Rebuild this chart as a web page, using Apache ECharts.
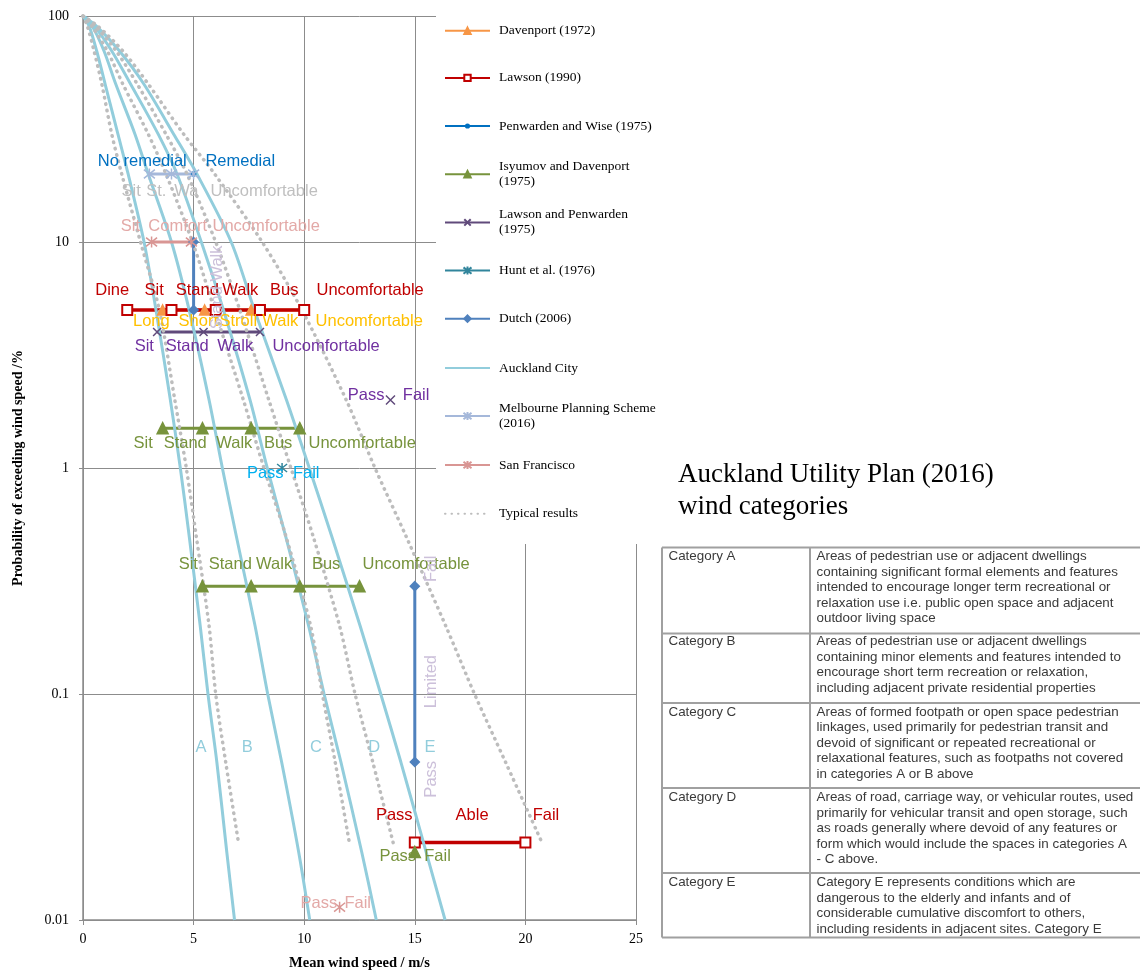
<!DOCTYPE html>
<html><head><meta charset="utf-8">
<script src="https://cdn.jsdelivr.net/npm/echarts@6/dist/echarts.min.js"></script>
<style>html,body{margin:0;padding:0;background:#fff}#c{width:1140px;height:976px}</style>
</head><body><div id="c"></div>
<script>
// ---------- data ----------
const xTicks = [0, 5, 10, 15, 20, 25];
const yTicks = [0.01, 0.1, 1, 10, 100];

const pAuckland = [100, 90, 70, 50, 30, 20, 10, 5, 2, 1, 0.5, 0.2, 0.1, 0.05, 0.02, 0.01];
const aucklandA = [0, 0.28, 0.62, 1.0, 1.58, 2.04, 2.76, 3.3, 3.95, 4.4, 4.8, 5.3, 5.65, 6.05, 6.5, 6.85];
const aucklandB = [0, 0.42, 0.95, 1.48, 2.35, 2.95, 4.0, 4.8, 5.7, 6.3, 6.93, 7.78, 8.35, 8.98, 9.75, 10.25];
const aucklandC = [0, 0.52, 1.3, 2.15, 3.4, 4.25, 5.35, 6.35, 7.55, 8.33, 9.16, 10.2, 10.9, 11.66, 12.6, 13.26];
const aucklandD = [0, 0.62, 1.65, 2.75, 4.1, 5.15, 6.7, 7.75, 9.2, 10.23, 11.24, 12.53, 13.46, 14.37, 15.51, 16.37];

const pTypical = [100, 90, 70, 50, 30, 20, 10, 5, 2, 1, 0.5, 0.2, 0.1, 0.05, 0.022];
const typical1 = [0, 0.2, 0.5, 0.85, 1.3, 1.75, 2.6, 3.45, 4.15, 4.67, 5.12, 5.7, 6.0, 6.45, 7.03];
const typical2 = [0, 0.4, 1.1, 1.8, 2.95, 3.75, 4.95, 5.95, 7.25, 8.18, 9.17, 10.29, 10.82, 11.4, 12.04];
const typical3 = [0, 0.56, 1.5, 2.45, 3.75, 4.7, 6.0, 7.09, 8.4, 9.4, 10.4, 11.6, 12.3, 13.1, 14.02];
const typical4 = [0, 0.68, 1.8, 2.95, 4.55, 5.95, 8.1, 9.9, 11.9, 13.2, 14.6, 16.4, 17.7, 19.1, 20.75];

const davenportX = [3.6, 5.5, 7.6, 10];        const davenportP = 5;
const lawsonX = [2, 4, 6, 8, 10];               const lawsonP = 5;
const lawsonX2 = [15, 20];                      const lawsonP2 = 0.022;
const penwardenX = [5];                         const penwardenP = 20;
const isyumovX1 = [3.6, 5.4, 7.6, 9.8];         const isyumovP1 = 1.5;
const isyumovX2 = [5.4, 7.6, 9.8, 12.5];        const isyumovP2 = 0.3;
const isyumovX3 = [15];                         const isyumovP3 = 0.02;
const lpX = [3.35, 5.45, 8.0];                  const lpP = 4;
const lpX2 = [13.9];                            const lpP2 = 2;
const huntX = [9];                              const huntP = 1;
const dutchP1 = [10, 5];                        const dutchX1 = 5;
const dutchP2 = [0.3, 0.05];                    const dutchX2 = 15;
const melbourneX = [3, 4, 5];                   const melbourneP = 20;
const sfX = [3.1, 4.9];                         const sfP = 10;
const sfX2 = [11.6];                            const sfP2 = 0.0114;

// annotation labels: [text, wind speed, probability]
const lblPenwarden = [['No remedial', 2.68, 22.67], ['Remedial', 7.11, 22.67]];
const lblMelbourne = [['Sit', 2.18, 16.71], ['St.', 3.31, 16.71], ['Wa', 4.67, 16.71], ['Uncomfortable', 8.19, 16.71]];
const lblSF = [['Sit', 2.14, 11.74], ['Comfort', 4.28, 11.74], ['Uncomfortable', 8.28, 11.74], ['Pass', 10.66, 0.01189], ['Fail', 12.42, 0.01189]];
const lblLawson = [['Dine', 1.32, 6.076], ['Sit', 3.22, 6.076], ['Stand', 5.165, 6.076], ['Walk', 7.11, 6.076], ['Bus', 9.1, 6.076], ['Uncomfortable', 12.98, 6.076],
                   ['Pass', 14.07, 0.02909], ['Able', 17.59, 0.02909], ['Fail', 20.93, 0.02909]];
const lblDavenport = [['Long', 3.09, 4.457], ['Short', 5.21, 4.457], ['Stroll', 7.02, 4.457], ['Walk', 8.92, 4.457], ['Uncomfortable', 12.94, 4.457]];
const lblLP = [['Sit', 2.77, 3.456], ['Stand', 4.71, 3.456], ['Walk', 6.88, 3.456], ['Uncomfortable', 10.99, 3.456], ['Pass', 12.8, 2.1], ['Fail', 15.06, 2.1]];
const lblIsyumov = [['Sit', 2.72, 1.289], ['Stand', 4.62, 1.289], ['Walk', 6.84, 1.289], ['Bus', 8.82, 1.289], ['Uncomfortable', 12.62, 1.289],
                    ['Sit', 4.76, 0.375], ['Stand', 6.66, 0.375], ['Walk', 8.64, 0.375], ['Bus', 10.99, 0.375], ['Uncomfortable', 15.06, 0.375],
                    ['Pass', 14.23, 0.01917], ['Fail', 16.03, 0.01917]];
const lblHunt = [['Pass', 8.24, 0.9504], ['Fail', 10.09, 0.9504]];
const lblCategories = [['A', 5.33, 0.05805], ['B', 7.42, 0.05805], ['C', 10.53, 0.05805], ['D', 13.16, 0.05805], ['E', 15.69, 0.05805]];
const lblDutch = [['Stand Walk', 6.07, 6.3], ['Fail', 15.74, 0.358], ['Limited', 15.74, 0.1135], ['Pass', 15.74, 0.04194]];

const legendNames = ['Davenport (1972)', 'Lawson (1990)', 'Penwarden and Wise (1975)', 'Isyumov and Davenport (1975)',
  'Lawson and Penwarden (1975)', 'Hunt et al. (1976)', 'Dutch (2006)', 'Auckland City',
  'Melbourne Planning Scheme (2016)', 'San Francisco', 'Typical results'];

const tableTitle = 'Auckland Utility Plan (2016)\nwind categories';
const tableCategories = ['Category A', 'Category B', 'Category C', 'Category D', 'Category E'];
const tableTexts = [
  ['Areas of pedestrian use or adjacent dwellings', 'containing significant formal elements and features', 'intended to encourage longer term recreational or', 'relaxation use i.e. public open space and adjacent', 'outdoor living space'],
  ['Areas of pedestrian use or adjacent dwellings', 'containing minor elements and features intended to', 'encourage short term recreation or relaxation,', 'including adjacent private residential properties'],
  ['Areas of formed footpath or open space pedestrian', 'linkages, used primarily for pedestrian transit and', 'devoid of significant or repeated recreational or', 'relaxational features, such as footpaths not covered', 'in categories A or B above'],
  ['Areas of road, carriage way, or vehicular routes, used', 'primarily for vehicular transit and open storage, such', 'as roads generally where devoid of any features or', 'form which would include the spaces in categories A', '- C above.'],
  ['Category E represents conditions which are', 'dangerous to the elderly and infants and of', 'considerable cumulative discomfort to others,', 'including residents in adjacent sites. Category E']
];

// ---------- helpers ----------
const zipX = (xs, ps) => xs.map((x, i) => [x, ps[i]]);
const atP = (xs, p) => xs.map(x => [x, p]);
const atX = (x, ps) => ps.map(p => [x, p]);

const ASTER = 'path://M1,1L9,9M9,1L1,9M5,0L5,10';
const CROSS = 'path://M0,0L10,10M10,0L0,10';

function lineS(name, data, color, opt) {
  return Object.assign({
    name, type: 'line', data, symbol: 'none', showSymbol: true,
    lineStyle: { color, width: 3 },
    itemStyle: { color, borderColor: color, borderWidth: 1.5 },
    emphasis: { disabled: true }, silent: true, animation: false, z: 2
  }, opt || {});
}
function markS(name, data, color, symbol, size, opt) {
  return lineS(name, data, color, Object.assign({ symbol, symbolSize: size }, opt || {}));
}
function labelS(items, color, rotate) {
  return {
    type: 'scatter', name: '_lbl', data: items.map(([t, x, p]) => ({ value: [x, p], name: t })),
    symbol: 'circle', symbolSize: 1, itemStyle: { color: 'rgba(0,0,0,0)', opacity: 1 },
    label: { show: true, position: 'inside', formatter: '{b}', color, opacity: 1, fontFamily: 'Liberation Sans', fontSize: 16.5, rotate: rotate || 0 },
    emphasis: { disabled: true }, silent: true, animation: false, z: 6, clip: false
  };
}

const C_AUCK = '#92CDDC', C_TYP = '#BDBDBD';
const typStyle = { lineStyle: { color: C_TYP, width: 3.5, type: [0.5, 6], cap: 'round' }, smooth: 0.3 };
const aucStyle = { smooth: 0.3, lineStyle: { color: C_AUCK, width: 3 } };

const series = [
  markS('Davenport (1972)', atP(davenportX, davenportP), '#F79646', 'triangle', 10),
  markS('Lawson (1990)', atP(lawsonX, lawsonP), '#C00000', 'emptyRect', 10, { lineStyle: { color: '#C00000', width: 3.5 } }),
  markS('Lawson (1990)', atP(lawsonX2, lawsonP2), '#C00000', 'emptyRect', 10, { lineStyle: { color: '#C00000', width: 3.5 } }),
  markS('Penwarden and Wise (1975)', atP(penwardenX, penwardenP), '#0070C0', 'circle', 4),
  markS('Isyumov and Davenport (1975)', atP(isyumovX1, isyumovP1), '#77933C', 'triangle', 11),
  markS('Isyumov and Davenport (1975)', atP(isyumovX2, isyumovP2), '#77933C', 'triangle', 11),
  markS('Isyumov and Davenport (1975)', atP(isyumovX3, isyumovP3), '#77933C', 'triangle', 11),
  markS('Lawson and Penwarden (1975)', atP(lpX, lpP), '#604A7B', CROSS, 8),
  markS('Lawson and Penwarden (1975)', atP(lpX2, lpP2), '#604A7B', CROSS, 9),
  markS('Hunt et al. (1976)', atP(huntX, huntP), '#31859C', ASTER, 10),
  markS('Dutch (2006)', atX(dutchX1, dutchP1), '#4F81BD', 'diamond', 9),
  markS('Dutch (2006)', atX(dutchX2, dutchP2), '#4F81BD', 'diamond', 9),
  lineS('Auckland City', zipX(aucklandA, pAuckland), C_AUCK, aucStyle),
  lineS('Auckland City', zipX(aucklandB, pAuckland), C_AUCK, aucStyle),
  lineS('Auckland City', zipX(aucklandC, pAuckland), C_AUCK, aucStyle),
  lineS('Auckland City', zipX(aucklandD, pAuckland), C_AUCK, aucStyle),
  markS('Melbourne Planning Scheme (2016)', atP(melbourneX, melbourneP), '#A5B8DA', ASTER, 11),
  markS('San Francisco', atP(sfX, sfP), '#D99694', ASTER, 11),
  markS('San Francisco', atP(sfX2, sfP2), '#D99694', ASTER, 11),
  lineS('Typical results', zipX(typical1, pTypical), C_TYP, typStyle),
  lineS('Typical results', zipX(typical2, pTypical), C_TYP, typStyle),
  lineS('Typical results', zipX(typical3, pTypical), C_TYP, typStyle),
  lineS('Typical results', zipX(typical4, pTypical), C_TYP, typStyle),
  labelS(lblPenwarden, '#0070C0'),
  labelS(lblMelbourne, '#BFBFBF'),
  labelS(lblSF, '#E3A9A7'),
  labelS(lblLawson, '#C00000'),
  labelS(lblDavenport, '#FFC000'),
  labelS(lblLP, '#7030A0'),
  labelS(lblIsyumov, '#77933C'),
  labelS(lblHunt, '#00B0F0'),
  labelS(lblCategories, C_AUCK),
  labelS(lblDutch, '#CCC0DA', 90)
];

// ---------- legends (one per entry, positioned individually) ----------
const legendCenters = [30.8, 77.9, 126, 174.2, 222.4, 270.6, 318.7, 368, 416, 465, 513.8];
const twoLine = { 'Isyumov and Davenport (1975)': 'Isyumov and Davenport\n(1975)',
                  'Lawson and Penwarden (1975)': 'Lawson and Penwarden\n(1975)',
                  'Melbourne Planning Scheme (2016)': 'Melbourne Planning Scheme\n(2016)' };
const iconHeights = { 'Penwarden and Wise (1975)': 4, 'Hunt et al. (1976)': 10, 'Melbourne Planning Scheme (2016)': 10, 'San Francisco': 10 };
const legends = legendNames.map((name, i) => {
  const two = !!twoLine[name];
  const noMarker = name === 'Auckland City' || name === 'Typical results';
  return {
    data: [name], orient: 'vertical', left: 444, top: legendCenters[i] - (two ? 22.5 : 7.5),
    padding: 0, itemWidth: 45, itemHeight: iconHeights[name] || 8, selectedMode: false,
    formatter: n => twoLine[n] || n,
    itemStyle: noMarker ? { opacity: 0 } : {},
    textStyle: { fontFamily: 'Liberation Serif', fontSize: 13.5, color: '#000', lineHeight: 15, padding: two ? [15, 0, 0, 4] : [0, 0, 0, 4] },
    z: 5
  };
});

// ---------- table graphics ----------
const tblRows = [547.5, 633.5, 703, 788, 873, 937.5];
const tblFirstLine = [556.7, 641.7, 712.3, 797.7, 882.7];
const gfx = [];
gfx.push({ type: 'rect', shape: { x: 436, y: 0, width: 226, height: 544 }, style: { fill: '#fff' }, z: 3, silent: true });
gfx.push({ type: 'text', x: 678, y: 459, style: { text: tableTitle, font: '27px "Liberation Serif"', fill: '#000', lineHeight: 32 }, z: 5 });
tblRows.forEach(y => gfx.push({ type: 'line', shape: { x1: 662, y1: y, x2: 1140, y2: y }, style: { stroke: '#A0A0A0', lineWidth: 2 }, z: 5 }));
[662, 810].forEach(x => gfx.push({ type: 'line', shape: { x1: x, y1: tblRows[0], x2: x, y2: tblRows[5] }, style: { stroke: '#A0A0A0', lineWidth: 2 }, z: 5 }));
tableCategories.forEach((c, i) => {
  gfx.push({ type: 'text', x: 668.5, y: tblFirstLine[i] - 7.75, style: { text: c, font: '13.4px "Liberation Sans"', fill: '#3a3a3a', lineHeight: 15.5 }, z: 5 });
  gfx.push({ type: 'text', x: 816.5, y: tblFirstLine[i] - 7.75, style: { text: tableTexts[i].join('\n'), font: '13.4px "Liberation Sans"', fill: '#3a3a3a', lineHeight: 15.5 }, z: 5 });
});

const axisGray = '#8C8C8C';
const option = {
  animation: false,
  backgroundColor: '#fff',
  grid: { left: 83, right: 504, top: 16, bottom: 54 },
  xAxis: {
    type: 'value', min: xTicks[0], max: xTicks[xTicks.length - 1], interval: 5,
    axisLine: { lineStyle: { color: axisGray, width: 1.5 } },
    axisTick: { show: true, length: 5, lineStyle: { color: axisGray } },
    splitLine: { show: true, lineStyle: { color: axisGray, width: 1 } },
    axisLabel: { fontFamily: 'Liberation Serif', fontSize: 14, color: '#000', margin: 12 },
    name: 'Mean wind speed / m/s', nameLocation: 'middle', nameGap: 36,
    nameTextStyle: { fontFamily: 'Liberation Serif', fontSize: 14.5, fontWeight: 'bold', color: '#000' }
  },
  yAxis: {
    type: 'log', logBase: 10, min: yTicks[0], max: yTicks[yTicks.length - 1],
    axisLine: { show: true, lineStyle: { color: axisGray, width: 1.5 } },
    axisTick: { show: true, length: 4, lineStyle: { color: axisGray } },
    splitLine: { show: true, lineStyle: { color: axisGray, width: 1 } },
    minorTick: { show: false },
    axisLabel: { fontFamily: 'Liberation Serif', fontSize: 14, color: '#000', margin: 14, formatter: v => String(+v.toPrecision(6)) },
    name: 'Probability of exceeding wind speed /%', nameLocation: 'middle', nameGap: 58, nameRotate: 90,
    nameTextStyle: { fontFamily: 'Liberation Serif', fontSize: 14, fontWeight: 'bold', color: '#000' }
  },
  legend: legends,
  series,
  graphic: { elements: gfx }
};
const chart = echarts.init(document.getElementById('c'), null, { renderer: 'canvas' });
chart.setOption(option);
</script></body></html>
